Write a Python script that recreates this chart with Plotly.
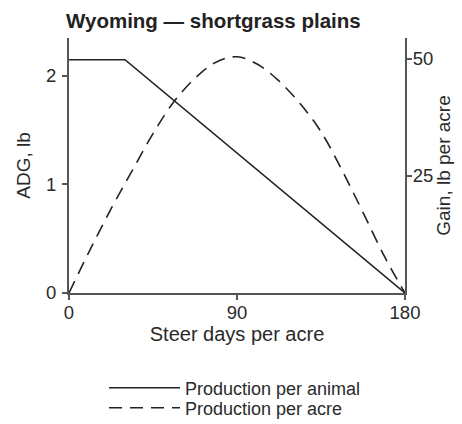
import plotly.graph_objects as go

# Production per animal (ADG, lb) vs steer days per acre
animal_days = [0, 30, 180]
animal_adg = [2.15, 2.15, 0]

# Production per acre (gain, lb per acre) vs steer days per acre
acre_days = [0, 11, 23, 34, 45, 56, 68, 79, 90, 101, 112, 124, 135, 146, 157, 169, 180]
acre_gain = [0, 9, 18.3, 26.2, 34, 40.7, 46, 49.3, 50.4, 48.8, 45.4, 40.3, 34.4, 26.4, 17.6, 7.8, 0]

x_ticks = [0, 90, 180]
left_ticks = [0, 1, 2]
right_ticks = [25, 50]

FONT = "Liberation Sans, Arial, sans-serif"
TXT = "#2a2a2a"
AX = "#555555"

fig = go.Figure()
fig.add_trace(go.Scatter(x=animal_days, y=animal_adg, mode="lines",
                         name="Production per animal", legend="legend",
                         line=dict(color="#222222", width=1.6)))
fig.add_trace(go.Scatter(x=acre_days, y=acre_gain, mode="lines", yaxis="y2",
                         name="Production per acre", legend="legend2",
                         line=dict(color="#222222", width=1.6, dash="13px,8px", shape="spline")))

axis_common = dict(showline=True, linecolor=AX, linewidth=2, ticks="outside", ticklen=5,
                   tickcolor=AX, tickwidth=1.5, showgrid=False, zeroline=False,
                   automargin=False, tickfont=dict(size=18.5, color=TXT))

legend_common = dict(xref="paper", yref="container", xanchor="left", yanchor="middle",
                     orientation="v", itemwidth=71, bgcolor="rgba(0,0,0,0)",
                     font=dict(size=18, color=TXT))

LEG_X = (104 - 69) / 336

fig.update_layout(
    width=462, height=424,
    margin=dict(l=69, r=57, t=38, b=131),
    paper_bgcolor="white", plot_bgcolor="white",
    font=dict(family=FONT, size=19, color=TXT),
    title=dict(text="<b>Wyoming — shortgrass plains</b>", x=66/462, xanchor="left",
               y=1 - 21/424, yanchor="middle", font=dict(size=20.5, color="#222")),
    xaxis=dict(range=[0, 180], tickvals=x_ticks, ticklabelstandoff=-3, tickangle=0,
               title=dict(text="Steer days per acre", standoff=0, font=dict(size=20)), **axis_common),
    yaxis=dict(range=[0, 2.35], tickvals=left_ticks, ticklabelstandoff=2,
               title=dict(text="ADG, lb", standoff=10, font=dict(size=19)), **axis_common),
    yaxis2=dict(range=[0, 54.4], tickvals=right_ticks, overlaying="y", side="right",
                ticklabelstandoff=-3,
                title=dict(text="Gain, lb per acre", standoff=0, font=dict(size=19)), **axis_common),
    legend=dict(x=LEG_X, y=1 - 388/424, **legend_common),
    legend2=dict(x=LEG_X, y=1 - 408/424, **legend_common),
    showlegend=True,
)

fig.write_html("out.html", config={"displayModeBar": False},
               post_script="document.body.style.margin='0';")
